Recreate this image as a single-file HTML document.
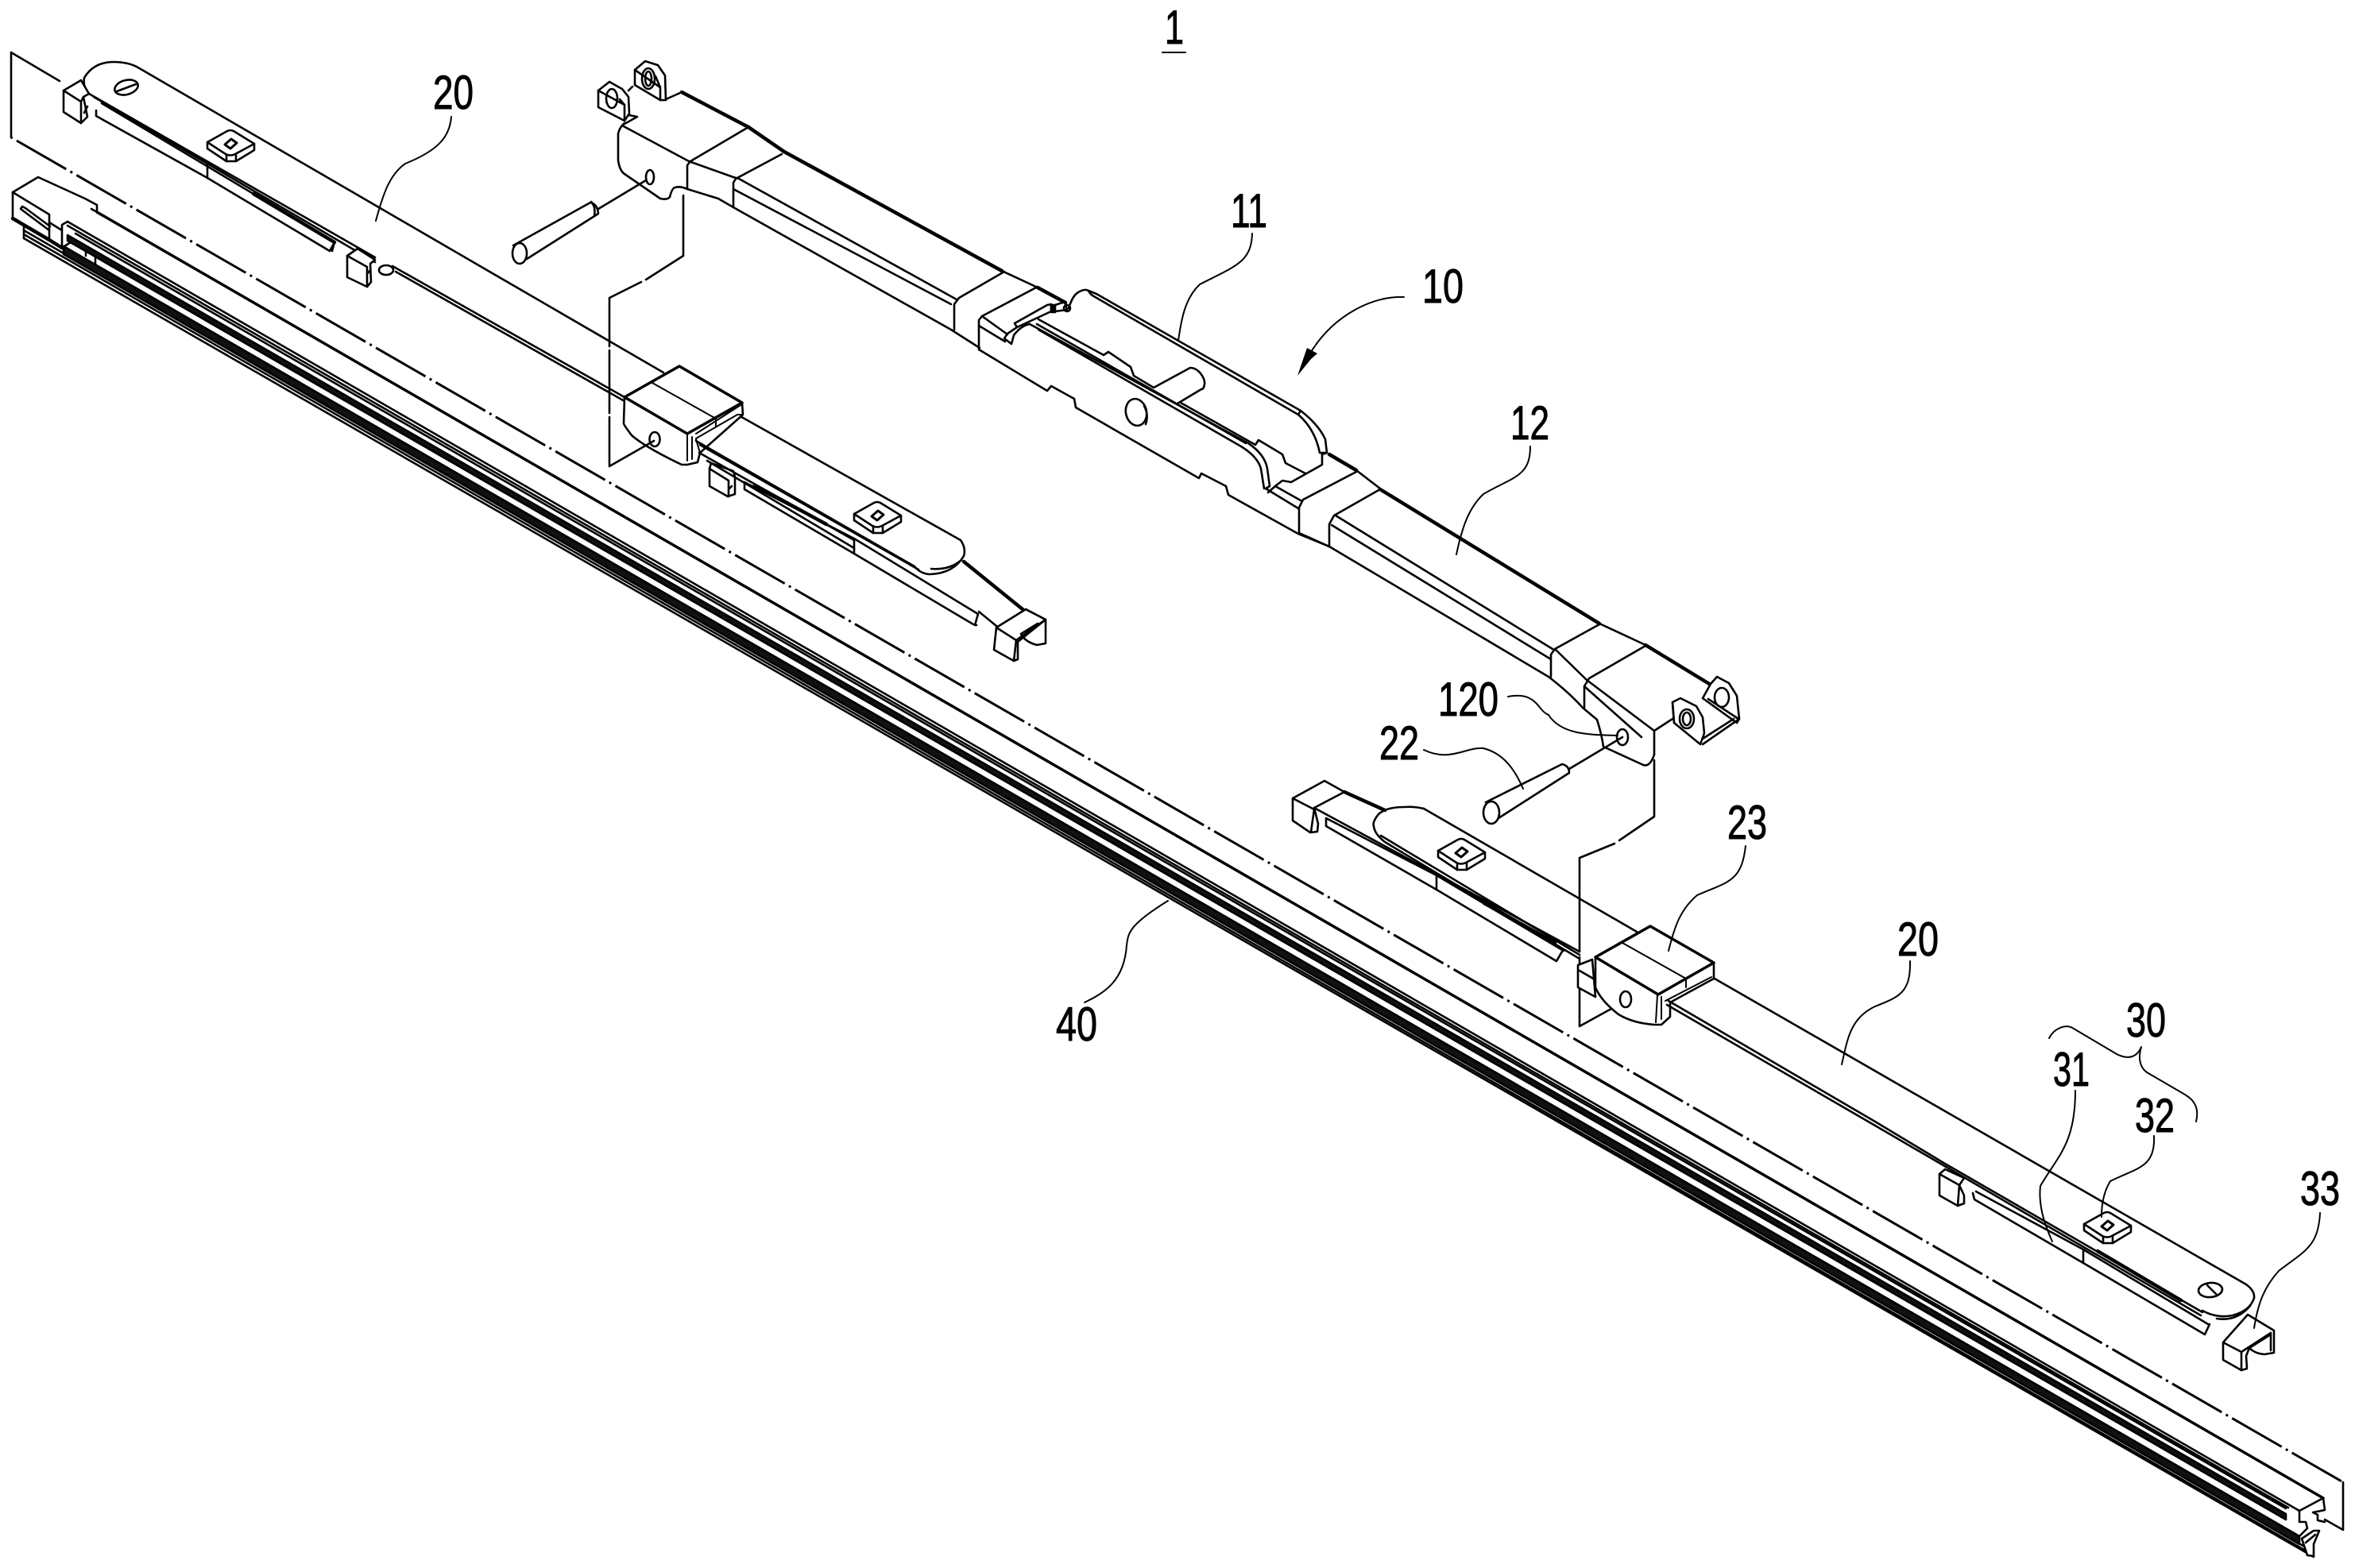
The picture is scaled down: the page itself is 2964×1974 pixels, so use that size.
<!DOCTYPE html>
<html><head><meta charset="utf-8"><style>
html,body{margin:0;padding:0;background:#fff;width:2964px;height:1974px;overflow:hidden}
svg{display:block}
text{font-family:"Liberation Sans",sans-serif;font-size:60px;fill:#000;stroke:#000;stroke-width:1}
.l{fill:none;stroke:#000;stroke-width:2.6;stroke-linejoin:round;stroke-linecap:round}
.t{stroke-width:4.5}
.n{stroke-width:2}
.w{fill:#fff}
</style></head><body>
<svg width="2964" height="1974" viewBox="0 0 2964 1974" xmlns="http://www.w3.org/2000/svg">
<defs>
<g id="tab" class="l">
<path class="w" d="M-29,-2 L-29,6 L-5,22 L7,22 L30,8 L30,0 L4,-16 Q0,-18 -4,-16Z"/>
<path d="M-29,-2 L-6,13 Q0,16 6,13 L30,0"/>
<path d="M-5,14 L-5,22 M7,13 L7,22"/>
<path class="t" d="M-7,1 L1,-6 L8,-1 L0,6Z" style="stroke-width:3"/>
</g>
</defs>

<!-- phantom envelope -->
<g class="l">
<path d="M14,66 L14,173"/>
<path d="M14,66 L75,102"/>
<path d="M2949,1866 L2949,1926 L2926,1913"/>
<path class="t" stroke-dasharray="72 6 3 6" stroke-dashoffset="-8" d="M14,173 L2949,1866" style="stroke-width:3;stroke-linecap:butt"/>
</g>

<!-- rubber strip -->
<g class="l">
<path class="t" d="M122,267 L2924,1886" style="stroke-width:3.5"/>
<path d="M16,242 L48,223 L107,250 L122,258 L122,267 L115,263"/>
<path d="M16,242 L16,275 L30,283 L30,300"/>
<path d="M16,242 L62,270 L62,280 L78,290 L78,283 L85,279"/>
<path d="M28,260 L32,262 L63,285 M28,260 L26,263 L62,290"/>
<path d="M62,280 L62,302 L78,312 L78,290"/>
<path class="t" d="M16,275 L62,302 M62,302 L78,312"/>
<path d="M78,312 L92,303 M108,315 L108,322 M120,322 L120,332 M120,322 L142,333"/>
<path d="M85,279 L2894,1902"/>
<path d="M85,284 L2880,1898"/>
<path d="M95,294 L2877,1899"/>
<path d="M30,290 L2902,1948"/>
<path d="M30,295 L2905,1954"/>
<path d="M30,300 L2912,1960"/>
<polygon fill="#111" points="85,296 2877,1906 2877,1913 85,303"/>
<polygon fill="#111" points="80,310 2894,1934 2894,1944 80,320"/>
<path d="M2924,1886 L2894,1902 L2894,1916 L2902,1916 L2904,1924 L2894,1934"/>
<path d="M2924,1886 L2926,1901 L2911,1904 L2917,1907 L2917,1914 L2926,1916"/>
<path class="w" d="M2897,1937 L2912,1927 L2919,1927 L2912,1944 L2912,1959 L2904,1958Z"/>
<path d="M2902,1942 L2914,1932"/>
</g>

<!-- top edges of blades -->
<g class="l">
<path d="M172,84 L835,469"/>
<path d="M928,522 L1209,680"/>
<path d="M1792,1018 L2060,1173"/>
<path d="M2158,1232 L2827,1617"/>
</g>

<!-- left blade: far end -->
<g class="l">
<path d="M172,84 Q160,78 143,78 Q118,78 106,98 Q104,110 112,118 L472,324"/>
<path d="M118,122 L472,330"/>
<path d="M128,130 L421,305"/>
<path class="t" d="M319,244 L421,305"/>
<path d="M121,139 L121,146 L261,224 L415,316 L421,305 L418,316"/>
<path d="M261,206 L261,224"/>
<ellipse cx="159" cy="110" rx="15" ry="9" transform="rotate(-15 159 110)"/>
<path d="M147,115 L171,106"/>
<path class="w" d="M80,114 L102,101 L112,118 L105,122 L110,147 L102,155 L80,141Z"/>
<path d="M80,114 L102,128 L102,155 M105,122 L102,128 M106,142 L110,134"/>
<use href="#tab" x="290" y="181"/>
<path class="w" d="M437,322 L450,313 L472,327 L466,332 L467,355 L462,361 L437,349Z"/>
<path d="M437,322 L462,336 L462,361 M466,340 L462,345"/>
<ellipse cx="486" cy="340" rx="9" ry="6"/>
<path d="M494,335 L786,500 M498,342 L786,505"/>
</g>

<!-- left block -->
<g class="l">
<path class="w" d="M786,500 L855,461 L934,507 L935,522 L881,570 L878,582 L865,585 L858,585 Q812,563 795,548 Q785,535 785,533Z"/>
<path class="t" d="M786,500 L855,461 L934,507 L865,546 Z" style="stroke-width:3.5"/>
<path class="n" d="M821,482 L901,527 L901,537"/>
<path class="n" d="M865,547 L865,580 M871,550 L871,578 M876,546 L932,510 M876,552 L928,522 L935,522 L934,507"/>
<path class="n" d="M876,553 L881,570 L878,582 L865,585"/>
<ellipse cx="824" cy="553" rx="6.5" ry="9"/>
<path d="M876,555 L1151,713 M881,560 L1156,717"/>
</g>

<!-- left blade: near end -->
<g class="l">
<path d="M1209,680 Q1216,690 1213,700 Q1200,722 1170,723 Q1158,722 1151,713"/>
<path d="M1210,705 Q1195,718 1172,716"/>
<path d="M937,607 L1075,678 L1231,773 L1227,787 L1229,787"/>
<path d="M937,607 L937,616 L1075,697 L1225,786 M1075,678 L1075,697"/>
<path class="t" d="M950,611 L1040,660"/>
<path class="w" d="M895,583 L893,590 L893,612 L916,625 L925,622 L925,600 L923,593Z"/>
<path d="M893,590 L917,605 L917,625 M921,612 L917,616"/>
<path d="M880,570 L1075,680 M890,580 L1075,690"/>
<use href="#tab" x="1104" y="649"/>
<path class="t" d="M1213,707 L1287,767"/>
<path d="M1232,770 L1254,788"/>
<path class="w" d="M1291,767 L1254,790 L1251,818 L1276,832 L1281,830 L1281,808 L1316,780Z"/>
<path d="M1254,790 L1279,806 L1316,780 L1316,810 L1305,812 Q1290,808 1285,798 L1306,785"/>
<path d="M1279,806 L1276,832 M1291,767 L1316,780"/>
</g>

<!-- central beam left -->
<g class="l">
<path class="w" d="M753,114 L767,103 L783,112 L791,122 L792,143 L786,152 L753,135Z"/>
<ellipse cx="770" cy="124" rx="7" ry="12"/>
<path d="M753,114 L786,132 L786,152 M780,125 L786,132"/>
<path class="w" d="M799,88 L812,77 L828,82 L837,95 L838,126 L831,126 L799,107Z"/>
<ellipse cx="816" cy="99" rx="8" ry="13"/>
<ellipse cx="816" cy="99" rx="4" ry="9"/>
<path d="M799,88 L831,110 L831,126 M825,96 L831,110"/>
<path d="M792,145 L802,147 L786,156 M796,109 L791,114"/>
<path d="M838,125 L858,116"/>
<path class="t" d="M858,116 L942,160 L987,191 L1261,341"/>
<path d="M1261,341 L1306,362"/>
<path class="t" d="M1306,362 L1341,381"/>
<path d="M786,155 Q780,160 778,168 L778,202 Q780,215 786,219 L831,250 Q840,252 843,248 Q846,236 850,236 Q856,234 865,238 L904,250 L923,261 L1197,415 L1233,438"/>
<path d="M783,158 L867,203 Q895,213 923,223 L930,225 L1204,377"/>
<path d="M923,238 L1197,383"/>
<path d="M942,160 L869,203 L865,208 L865,238"/>
<path d="M984,194 L926,225 L923,230 L923,261"/>
</g>

<!-- center bridge -->
<g class="l">
<path d="M1264,342 L1207,375 L1201,383 L1201,415"/>
<path d="M1304,362 L1236,398 L1232,403 L1232,440"/>
<path d="M1232,410 L1265,430 M1236,398 L1268,421"/>
<path d="M1277,407 L1318,384 L1323,383 L1323,392 L1280,412 Z"/>
<path d="M1280,412 L1268,420 L1264,426 L1273,433 L1276,422 Q1285,410 1296,408"/>
<rect x="1323" y="384" width="5" height="9" fill="#000"/>
<path d="M1328,384 L1340,380 L1343,390 L1328,392"/>
<ellipse cx="1343" cy="388" rx="4" ry="4"/>
<path d="M1345,388 Q1350,372 1357,368 Q1365,363 1370,366 L1380,370 L1637,517 Q1660,535 1668,553 L1670,570"/>
<path d="M1375,372 Q1372,370 1370,366 M1375,372 L1634,522 Q1655,540 1661,570 L1670,570 L1664,572"/>
<path d="M1634,522 L1637,517"/>
<path d="M1307,402 L1389,447 L1395,443 L1423,462 L1427,473 L1452,488 L1498,463 Q1505,463 1511,470 Q1517,478 1516,484 Q1515,490 1512,490 L1482,508"/>
<path d="M1486,507 L1580,560 L1584,554 L1614,572 L1618,583 L1643,596"/>
<path d="M1296,408 L1571,558 Q1592,572 1595,590 L1598,612"/>
<path d="M1305,408 L1568,558"/>
<path d="M1307,415 L1562,562 Q1583,575 1587,590 L1591,615 L1593,615 L1598,612"/>
<path d="M1232,440 L1318,492 L1323,486 L1352,502 L1354,513 L1509,602 L1512,596 L1543,612 L1546,623 L1634,672 L1673,688"/>
<ellipse cx="1430" cy="519" rx="13" ry="17" transform="rotate(-12 1430 519)"/>
<path d="M1440,511 Q1446,522 1442,534"/>
<path d="M1593,615 L1634,640 M1605,612 L1637,630 M1605,612 L1614,605 L1625,607 L1664,585 L1664,572"/>
<path d="M1596,620 L1605,612"/>
<path class="t" d="M1673,572 L1707,592"/>
<path d="M1707,592 L1737,615"/>
</g>

<!-- central beam right -->
<g class="l">
<path d="M1707,594 L1640,629 L1635,639 L1635,671 L1673,688"/>
<path d="M1737,616 L1679,649 L1673,660 L1673,688"/>
<path class="t" d="M1737,616 L2013,785"/>
<path d="M2013,785 L2071,812"/>
<path class="t" d="M2071,812 L2153,862"/>
<path d="M1681,649 L1954,817"/>
<path d="M1676,661 L1952,830"/>
<path d="M1673,688 L1949,852 Q1975,872 1992,891 L2010,906 Q2016,925 2018,940 L2066,962 Q2076,968 2082,950"/>
<path d="M2013,786 L1957,817 L1952,824 L1952,852"/>
<path d="M2071,813 L2000,854 L1994,864 L1994,891"/>
<path d="M1957,817 L1997,856 L2082,920 L2082,950 M1994,864 L2066,928"/>
<path d="M2082,920 L2105,905"/>
<path class="w" d="M2105,884 L2115,879 L2135,889 L2143,903 L2145,923 L2140,937 L2107,910Z"/>
<path d="M2105,884 L2107,910"/>
<ellipse cx="2123" cy="905" rx="9" ry="12"/>
<ellipse cx="2123" cy="905" rx="5" ry="8"/>
<path class="w" d="M2161,852 L2153,861 L2143,879 L2186,910 L2189,905 L2186,876 L2176,860Z"/>
<ellipse cx="2167" cy="878" rx="9" ry="12"/>
<path d="M2143,937 L2189,905 M2143,930 L2182,905 M2150,880 L2188,905"/>
<ellipse cx="2042" cy="928" rx="7" ry="10"/>
<ellipse cx="818" cy="223" rx="5" ry="9"/>
</g>

<!-- pins -->
<g class="l">
<path d="M813,227 L753,263"/>
<path class="w" d="M646,309 L743,255 Q752,257 753,269 L663,326Z"/>
<path d="M744,254 Q750,260 748,272"/>
<ellipse class="w" cx="654" cy="319" rx="9" ry="13"/>
<path d="M2042,928 L1975,968"/>
<path class="w" d="M1870,1010 L1966,962 Q1975,964 1975,973 L1886,1030Z"/>
<ellipse class="w" cx="1877" cy="1023" rx="10" ry="14"/>
</g>

<!-- phantom connectors -->
<g class="l">
<path d="M860,246 L860,322 L813,352 M807,355 L767,375 L767,436 M767,441 L767,520 M767,525 L767,587 L823,555"/>
<path d="M2082,957 L2082,1028 L2038,1058 M2032,1062 L1988,1080 L1988,1198 M1988,1205 L1988,1292 L2046,1260"/>
</g>

<!-- right blade: near end -->
<g class="l">
<path class="t" d="M1692,997 L1743,1020"/>
<path class="w" d="M1667,983 L1627,1005 L1627,1033 L1649,1048 L1658,1047 L1659,1037 L1654,1017 L1692,997Z"/>
<path d="M1627,1005 L1654,1019 L1650,1047"/>
<path d="M1654,1017 L1988,1198"/>
<path d="M1792,1018 Q1780,1015 1767,1016 Q1745,1016 1735,1025 Q1727,1035 1729,1040 Q1730,1050 1743,1060 L1988,1207"/>
<path d="M1738,1052 L1988,1202"/>
<path class="t" d="M1868,1137 L1957,1187"/>
<path d="M1669,1030 L1669,1040 L1808,1120 L1959,1210 L1966,1198 M1669,1030 L1808,1102 L1968,1197"/>
<path d="M1808,1102 L1808,1120"/>
<use href="#tab" x="1839" y="1073"/>
</g>

<!-- right block -->
<g class="l">
<path class="w" d="M1986,1215 L2004,1208 L2008,1255 L1986,1243Z"/>
<path d="M1988,1222 L2007,1233"/>
<path class="w" d="M2008,1205 L2077,1166 L2157,1212 L2157,1232 L2102,1262 L2102,1280 L2091,1290 L2082,1290 Q2055,1288 2037,1277 Q2015,1260 2008,1243Z"/>
<path class="t" d="M2008,1205 L2077,1166 L2157,1212 L2087,1252Z" style="stroke-width:3.5"/>
<path class="n" d="M2042,1187 L2122,1232 L2122,1243"/>
<path class="n" d="M2086,1252 L2084,1287 M2091,1255 L2091,1283 M2096,1260 L2154,1230"/>
<ellipse cx="2046" cy="1258" rx="7" ry="10"/>
<path d="M2100,1260 L2360,1412 M2098,1265 L2360,1417"/>
</g>

<!-- right blade: far end -->
<g class="l">
<path d="M2360,1412 L2448,1465 L2772,1652 M2360,1417 L2770,1656"/>
<path class="t" d="M2640,1575 L2745,1637"/>
<path class="w" d="M2448,1472 L2441,1478 L2441,1505 L2464,1518 L2472,1515 L2472,1505 L2466,1492 L2472,1483Z"/>
<path d="M2441,1478 L2466,1492 L2464,1518"/>
<path d="M2483,1502 L2485,1510 L2622,1590 L2775,1680 L2781,1667 M2487,1500 L2622,1573 L2779,1667 M2622,1573 L2622,1590"/>
<use href="#tab" x="2652" y="1543"/>
<path d="M2827,1617 Q2838,1625 2837,1634 Q2832,1650 2810,1656 Q2790,1660 2772,1650"/>
<path d="M2832,1644 Q2815,1664 2790,1660"/>
<ellipse cx="2782" cy="1624" rx="15" ry="9" transform="rotate(-5 2782 1624)"/>
<path d="M2778,1618 L2790,1630"/>
<path class="w" d="M2829,1655 L2862,1675 L2862,1703 L2850,1705 Q2838,1704 2831,1697 L2827,1707 L2828,1723 L2821,1725 L2798,1712 L2798,1690Z"/>
<path d="M2798,1690 L2821,1702 L2858,1678 L2858,1700 M2821,1702 L2821,1725 M2831,1697 L2858,1680"/>
</g>

<!-- leaders -->
<g class="l n">
<path d="M568,147 C566,170 555,188 510,206 C490,220 482,245 473,278"/>
<path d="M1576,294 C1575,330 1555,335 1510,358 C1492,375 1487,400 1483,429"/>
<path d="M1767,374 C1730,372 1680,395 1650,443"/>
<path d="M1926,562 C1926,600 1905,600 1867,622 C1848,640 1840,665 1833,698"/>
<path d="M1898,877 C1935,870 1935,895 1949,900 C1965,925 2000,925 2036,926"/>
<path d="M1792,944 C1825,960 1845,940 1867,942 C1890,948 1905,965 1917,993"/>
<path d="M2197,1065 C2192,1110 2175,1110 2136,1127 C2115,1145 2108,1165 2100,1197"/>
<path d="M2404,1210 C2405,1250 2390,1255 2360,1267 C2328,1282 2325,1310 2318,1340"/>
<path d="M1470,1134 C1420,1165 1420,1175 1418,1190 C1415,1235 1390,1250 1365,1262"/>
<path d="M2579,1307 C2585,1295 2600,1288 2610,1295 L2664,1327 C2680,1335 2690,1330 2695,1318 C2690,1335 2695,1345 2702,1350 L2750,1378 C2762,1385 2768,1395 2764,1412"/>
<path d="M2612,1373 C2612,1440 2590,1455 2568,1493 C2565,1520 2575,1545 2583,1563"/>
<path d="M2711,1430 C2713,1470 2690,1470 2656,1487 C2648,1500 2645,1515 2645,1532"/>
<path d="M2920,1527 C2918,1570 2900,1575 2868,1600 C2850,1620 2842,1640 2837,1672"/>
<path d="M1463,66 L1492,66"/>
</g>
<polygon fill="#000" points="1633,473 1645,438 1658,445 1650,452"/>

<!-- labels -->
<text x="1466" y="55" textLength="24" lengthAdjust="spacingAndGlyphs">1</text>
<text x="545" y="137" textLength="51" lengthAdjust="spacingAndGlyphs">20</text>
<text x="1549" y="286" textLength="46" lengthAdjust="spacingAndGlyphs">11</text>
<text x="1790" y="381" textLength="52" lengthAdjust="spacingAndGlyphs">10</text>
<text x="1901" y="553" textLength="49" lengthAdjust="spacingAndGlyphs">12</text>
<text x="1810" y="901" textLength="76" lengthAdjust="spacingAndGlyphs">120</text>
<text x="1736" y="956" textLength="50" lengthAdjust="spacingAndGlyphs">22</text>
<text x="2174" y="1056" textLength="50" lengthAdjust="spacingAndGlyphs">23</text>
<text x="2388" y="1203" textLength="52" lengthAdjust="spacingAndGlyphs">20</text>
<text x="1329" y="1310" textLength="52" lengthAdjust="spacingAndGlyphs">40</text>
<text x="2676" y="1305" textLength="50" lengthAdjust="spacingAndGlyphs">30</text>
<text x="2584" y="1367" textLength="46" lengthAdjust="spacingAndGlyphs">31</text>
<text x="2687" y="1425" textLength="50" lengthAdjust="spacingAndGlyphs">32</text>
<text x="2895" y="1517" textLength="50" lengthAdjust="spacingAndGlyphs">33</text>
</svg>
</body></html>
